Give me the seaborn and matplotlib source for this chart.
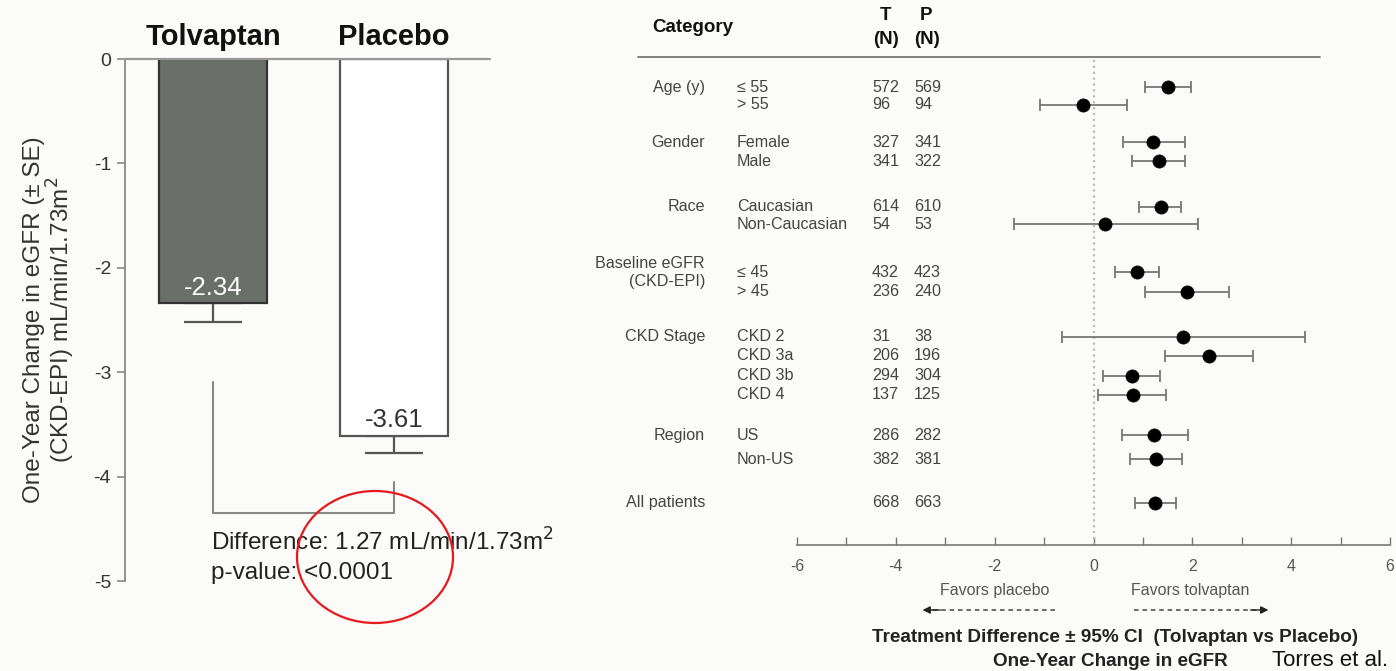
import matplotlib
matplotlib.use("Agg")
import matplotlib.pyplot as plt
import matplotlib.transforms as mtransforms
from matplotlib.lines import Line2D
from matplotlib.patches import Ellipse
import numpy as np
import pandas as pd
import seaborn as sns

# ---------------- data ----------------
bar_groups = ["Tolvaptan", "Placebo"]
bar_values = [-2.34, -3.61]
bar_se = [0.18, 0.16]
bar_labels = ["-2.34", "-3.61"]
diff_text = "Difference: 1.27 mL/min/1.73m$^2$"
p_text = "p-value: <0.0001"
bar_yticks = [0, -1, -2, -3, -4, -5]

group_names = ["Age (y)", "Gender", "Race", "Baseline eGFR\n(CKD-EPI)", "CKD Stage", "Region", "All patients"]
group_sizes = [2, 2, 2, 2, 4, 2, 1]
sub_labels = ["≤ 55", "> 55", "Female", "Male", "Caucasian", "Non-Caucasian",
              "≤ 45", "> 45", "CKD 2", "CKD 3a", "CKD 3b", "CKD 4", "US", "Non-US", ""]
n_tolvaptan = [572, 96, 327, 341, 614, 54, 432, 236, 31, 206, 294, 137, 286, 382, 668]
n_placebo = [569, 94, 341, 322, 610, 53, 423, 240, 38, 196, 304, 125, 282, 381, 663]
estimate = [1.51, -0.21, 1.21, 1.32, 1.36, 0.24, 0.88, 1.90, 1.82, 2.33, 0.77, 0.79, 1.23, 1.26, 1.25]
ci_low = [1.05, -1.09, 0.60, 0.77, 0.93, -1.61, 0.44, 1.05, -0.64, 1.44, 0.19, 0.10, 0.58, 0.74, 0.84]
ci_high = [1.98, 0.67, 1.85, 1.86, 1.78, 2.11, 1.33, 2.75, 4.27, 3.22, 1.34, 1.46, 1.91, 1.80, 1.66]
forest_ticks = [-6, -4, -2, 0, 2, 4, 6]

# layout: vertical slot of each forest row (row units, top = 0)
row_slots = [0, 0.92, 2.82, 3.8, 6.15, 7.03, 9.49, 10.51, 12.82, 13.79, 14.82, 15.79, 17.85, 19.08, 21.33]

# ---------------- style ----------------
sns.set_theme(style="white")
plt.rcParams["font.family"] = ["Liberation Sans", "DejaVu Sans"]
BG = "#fbfcfa"
W, H = 1396, 671

fig = plt.figure(figsize=(W / 100, H / 100), dpi=100, facecolor=BG)

def fx(px):
    return px / W

def fy(py):
    return 1 - py / H

# ---------------- left: bar chart ----------------
axL = fig.add_axes([fx(125), fy(581), fx(490) - fx(125), fy(59) - fy(581)])
axL.set_facecolor(BG)
df_bar = pd.DataFrame({"group": bar_groups, "value": bar_values})
sns.barplot(data=df_bar, x="group", y="value", order=bar_groups, width=0.6,
            ax=axL, errorbar=None, color="#6b6f6a")
fills = ["#6b6f6a", "#ffffff"]
edges = ["#333333", "#555555"]
for patch, fc, ec in zip(axL.patches, fills, edges):
    patch.set_facecolor(fc)
    patch.set_edgecolor(ec)
    patch.set_linewidth(1.6)
    patch.set_zorder(2)

xs = np.arange(len(bar_groups))
axL.errorbar(xs, bar_values, yerr=[bar_se, [0, 0]], fmt="none", ecolor="#555555",
             elinewidth=1.6, capsize=21, capthick=1.6, zorder=1)
axL.set_xlim(-0.486, 1.53)
axL.set_ylim(-5, 0)
axL.set_yticks(bar_yticks)
axL.set_yticklabels([str(v) for v in bar_yticks], fontsize=14, color="#333333")
axL.tick_params(axis="y", direction="out", length=6, width=1.2, color="#888888", left=True, pad=4)
axL.set_xticks([])
axL.set_xlabel("")
for s in ["top", "right", "bottom"]:
    axL.spines[s].set_visible(False)
axL.spines["left"].set_color("#888888")
axL.spines["left"].set_linewidth(1.3)
axL.axhline(0, color="#999999", lw=1.6, zorder=3, clip_on=False)
axL.set_ylabel("One-Year Change in eGFR (± SE)\n(CKD-EPI) mL/min/1.73m$^2$",
               fontsize=17.5, color="#333333", labelpad=12, linespacing=1.0)

for i, (g, v, lab) in enumerate(zip(bar_groups, bar_values, bar_labels)):
    axL.text(i, 0.08, g, ha="center", va="bottom", fontsize=21, fontweight="bold", color="#111111")
    axL.text(i, v + 0.15, lab, ha="center", va="center", fontsize=18.5,
             color="white" if i == 0 else "#333333", zorder=4)

axL.plot([0, 0, 1, 1], [-3.09, -4.35, -4.35, -4.05], color="#888888", lw=1.5, clip_on=False)
axL.text(-0.01, -4.63, diff_text, ha="left", va="center", fontsize=17.5, color="#222222", clip_on=False)
axL.text(-0.01, -4.92, p_text, ha="left", va="center", fontsize=17.5, color="#222222", clip_on=False)

fig.add_artist(Ellipse((fx(375), fy(557)), width=156 / W, height=132 / H,
                       transform=fig.transFigure, fill=False, edgecolor="#e8191d", lw=1.6))

# ---------------- right: forest plot ----------------
axR = fig.add_axes([fx(797), fy(545), fx(1390) - fx(797), fy(57) - fy(545)])
axR.set_facecolor(BG)

positions = np.array(row_slots)
group_first = []
idx = 0
for n in group_sizes:
    group_first.append(positions[idx])
    idx += n

est = np.array(estimate)
lo = np.array(ci_low)
hi = np.array(ci_high)
axR.errorbar(est, positions, xerr=[est - lo, hi - est], fmt="none", ecolor="#777777",
             elinewidth=1.3, capsize=4, capthick=1.3, zorder=2)
df_f = pd.DataFrame({"est": est, "pos": positions})
sns.scatterplot(data=df_f, x="est", y="pos", ax=axR, color="black", s=90,
                edgecolor="black", linewidth=0.5, zorder=3, legend=False)

axR.set_xlim(-6, 6)
axR.set_ylim(23.49, -1.54)
axR.axvline(0, color="#bbbbbb", ls=":", lw=1.6, zorder=1)
for s in ["top", "right", "left"]:
    axR.spines[s].set_visible(False)
axR.spines["bottom"].set_color("#777777")
axR.spines["bottom"].set_linewidth(1.2)
axR.set_yticks([])
axR.set_ylabel("")
axR.set_xlabel("")
axR.set_xticks(forest_ticks)
axR.set_xticks([-5, -3, -1, 1, 3, 5], minor=True)
axR.set_xticklabels([str(t) for t in forest_ticks], fontsize=11.5, color="#555555")
axR.tick_params(axis="x", which="both", direction="in", length=6, width=1.0,
                color="#777777", bottom=True, pad=10)

# table columns
tr = mtransforms.blended_transform_factory(fig.transFigure, axR.transData)
tcol = "#444444"
TS = 11.6
for gname, gpos in zip(group_names, group_first):
    axR.text(fx(705), gpos, gname, transform=tr, ha="right", va="center",
             fontsize=TS, color=tcol, linespacing=1.25)
for p, sl, nt, npl in zip(positions, sub_labels, n_tolvaptan, n_placebo):
    axR.text(fx(737), p, sl, transform=tr, ha="left", va="center", fontsize=TS, color=tcol)
    axR.text(fx(872), p, str(nt), transform=tr, ha="left", va="center", fontsize=TS, color=tcol)
    axR.text(fx(914), p, str(npl), transform=tr, ha="left", va="center", fontsize=TS, color=tcol)

# header
HS = 13.5
fig.text(fx(652), fy(27), "Category", ha="left", va="center", fontsize=HS, fontweight="bold", color="#111111")
fig.text(fx(885), fy(15), "T", ha="center", va="center", fontsize=HS, fontweight="bold", color="#111111")
fig.text(fx(886), fy(40), "(N)", ha="center", va="center", fontsize=HS, fontweight="bold", color="#111111")
fig.text(fx(926), fy(15), "P", ha="center", va="center", fontsize=HS, fontweight="bold", color="#111111")
fig.text(fx(927), fy(40), "(N)", ha="center", va="center", fontsize=HS, fontweight="bold", color="#111111")
fig.add_artist(Line2D([fx(638), fx(1320)], [fy(57), fy(57)], transform=fig.transFigure,
                      color="#777777", lw=1.3))

# favors labels and arrows
tb = mtransforms.blended_transform_factory(axR.transData, fig.transFigure)
axR.text(-2.0, fy(591), "Favors placebo", transform=tb, ha="center", va="center", fontsize=11.5, color="#555555")
axR.text(1.96, fy(591), "Favors tolvaptan", transform=tb, ha="center", va="center", fontsize=11.5, color="#555555")
axR.plot([-0.77, -3.3], [fy(610), fy(610)], transform=tb, ls=(0, (3, 2.5)), color="#444444", lw=1.1, clip_on=False)
axR.plot([0.81, 3.4], [fy(610), fy(610)], transform=tb, ls=(0, (3, 2.5)), color="#444444", lw=1.1, clip_on=False)
axR.annotate("", xy=(-3.46, fy(610)), xytext=(-3.1, fy(610)), xycoords=tb, textcoords=tb,
             arrowprops=dict(arrowstyle="-|>", color="#222222", lw=1.0, mutation_scale=11, shrinkA=0, shrinkB=0))
axR.annotate("", xy=(3.54, fy(610)), xytext=(3.18, fy(610)), xycoords=tb, textcoords=tb,
             arrowprops=dict(arrowstyle="-|>", color="#222222", lw=1.0, mutation_scale=11, shrinkA=0, shrinkB=0))

fig.text(fx(1115), fy(637), "Treatment Difference ± 95% CI  (Tolvaptan vs Placebo)", ha="center", va="center",
         fontsize=13.6, fontweight="bold", color="#222222")
fig.text(fx(1110), fy(661), "One-Year Change in eGFR", ha="center", va="center",
         fontsize=13.6, fontweight="bold", color="#222222")
fig.text(fx(1388), fy(666), "Torres et al.", ha="right", va="baseline", fontsize=16, color="#111111")

fig.savefig("out.png", dpi=100, facecolor=BG)
